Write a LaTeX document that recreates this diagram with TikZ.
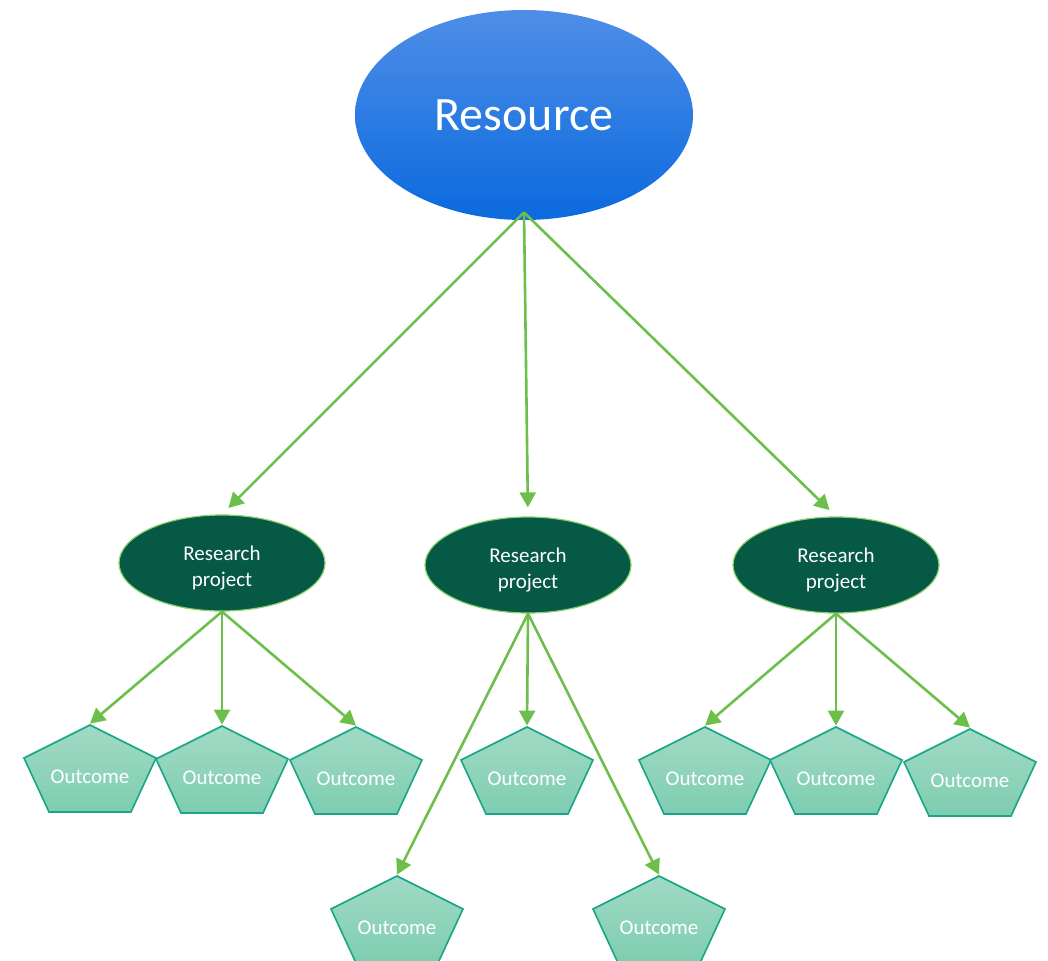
\documentclass[tikz,border=0pt]{standalone}
\usepackage{fontspec}
\setmainfont{Carlito}
\usepackage{tikz}
\usetikzlibrary{arrows.meta, shapes.geometric}

\definecolor{resTop}{HTML}{4F8EE8}
\definecolor{resBot}{HTML}{0B6ADE}
\definecolor{projFill}{HTML}{065945}
\definecolor{projEdge}{HTML}{8CD06C}
\definecolor{outTop}{HTML}{A2DAC5}
\definecolor{outBot}{HTML}{7DCDB0}
\definecolor{outEdge}{HTML}{18A588}
\definecolor{linkGreen}{HTML}{6BBF4A}

\begin{document}
\begin{tikzpicture}[x=0.5pt, y=0.5pt,
  resource/.style={ellipse, minimum width=169pt, minimum height=105pt, inner sep=0pt,
    top color=resTop, bottom color=resBot, text=white, font=\fontsize{24}{28}\selectfont},
  project/.style={ellipse, minimum width=103pt, minimum height=48pt, inner sep=0pt,
    fill=projFill, draw=projEdge, line width=0.6pt, text=white, align=center,
    font=\fontsize{10.5}{13}\selectfont, text height=25pt, text depth=2pt},
  outcome/.style={minimum width=68pt, minimum height=44.5pt, inner sep=0pt, text=white,
    font=\fontsize{10.5}{13}\selectfont, text height=15pt, text depth=0pt,
    path picture={\shade[top color=outTop, bottom color=outBot, draw=outEdge, line width=0.8pt]
      ([yshift=21.75pt]path picture bounding box.center)
      -- ([xshift=33pt, yshift=5.25pt]path picture bounding box.center)
      -- ([xshift=20.5pt, yshift=-21.75pt]path picture bounding box.center)
      -- ([xshift=-20.5pt, yshift=-21.75pt]path picture bounding box.center)
      -- ([xshift=-33pt, yshift=5.25pt]path picture bounding box.center) -- cycle;}},
  link/.style={-{Triangle[length=7.5pt, width=8pt]}, draw=linkGreen, line width=1.3pt}]

\useasboundingbox (0,0) rectangle (1048,960);

% Resource
\node[resource] (res) at (524,845) {Resource};
\coordinate (hub) at ([yshift=4pt]res.south);

% Research projects
\node[project] (rp1) at (222,397) {Research\\project};
\node[project] (rp2) at (528,395) {Research\\project};
\node[project] (rp3) at (836,395) {Research\\project};

% Outcomes
\node[outcome] (o11) at (90,191.5) {Outcome};
\node[outcome] (o12) at (222,190.5) {Outcome};
\node[outcome] (o13) at (356,189.5) {Outcome};
\node[outcome] (o21) at (397,40.5) {Outcome};
\node[outcome] (o22) at (527,189.5) {Outcome};
\node[outcome] (o23) at (659,40.5) {Outcome};
\node[outcome] (o31) at (705,189.5) {Outcome};
\node[outcome] (o32) at (836,189.5) {Outcome};
\node[outcome] (o33) at (970,187.5) {Outcome};

% Arrows
\foreach \p in {rp1,rp2,rp3}
  \draw[link, shorten >=4.5pt] (hub) -- (\p.north);
\foreach \p/\o in {rp1/o11, rp1/o12, rp1/o13, rp2/o21, rp2/o22, rp2/o23, rp3/o31, rp3/o32, rp3/o33}
  \draw[link] (\p.south) -- (\o.north);

\end{tikzpicture}
\end{document}
